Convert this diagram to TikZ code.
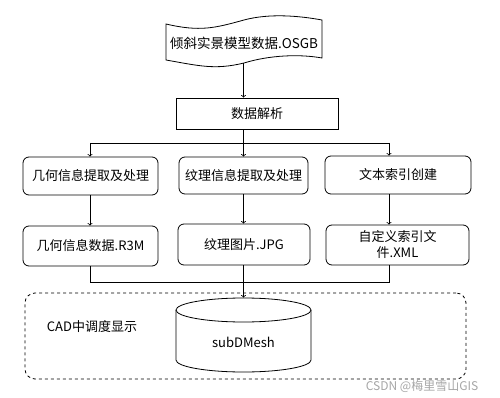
\documentclass[tikz,border=0pt]{standalone}
\usepackage{fontspec}
\setmainfont{Noto Sans CJK SC}

\tikzset{
  stage/.style={draw, rounded corners=6pt, align=center, inner sep=2pt},
  plainbox/.style={draw, align=center, inner sep=2pt},
}

\begin{document}
\begin{tikzpicture}[x=1pt, y=-1pt, >=to, font=\fontsize{13}{16}\selectfont, line width=0.8pt]

\useasboundingbox (0,0) rectangle (500,398);

% banner shaped source data
\draw (166,24) .. controls (200,32) and (215,28) .. (244,20)
      .. controls (270,13) and (300,16) .. (322,20)
      -- (322,58) .. controls (300,54) and (270,55) .. (244,63)
      .. controls (215,70) and (200,66) .. (166,60) -- cycle;
\node[font=\fontsize{13.5}{16}\selectfont] (doc) at (244,43) {倾斜实景模型数据.OSGB};
\coordinate (docBase) at (243.5,63);

\node[plainbox, minimum width=162pt, minimum height=31pt] (parse) at (257,113.5) {数据解析};

% first row: processing
\node[stage, minimum width=135pt, minimum height=38pt] (geo) at (90.5,176) {几何信息提取及处理};
\node[stage, minimum width=129pt, minimum height=37pt] (tex) at (243.5,175.5) {纹理信息提取及处理};
\node[stage, minimum width=146pt, minimum height=38pt] (idx) at (398,175) {文本索引创建};

% second row: results
\node[stage, minimum width=135pt, minimum height=40pt] (geoData) at (90.5,246) {几何信息数据.R3M};
\node[stage, minimum width=132pt, minimum height=41pt] (texImg) at (244,244.5) {纹理图片.JPG};
\node[stage, minimum width=143pt, minimum height=40pt] (idxFile) at (397.5,245) {自定义索引文\\件.XML};

% display in CAD
\node[draw, dashed, rounded corners=10pt, minimum width=441pt, minimum height=86pt] (cad) at (245.5,336) {};
\node (cadLabel) at (92,327) {CAD中调度显示};

% cylinder drawn by hand
\node[minimum width=135pt, minimum height=74pt, inner sep=0pt] (db) at (243.5,335) {};
\draw (176,310) -- (176,360) arc[start angle=180, end angle=360, x radius=67.5pt, y radius=12pt] -- (311,310);
\draw (243.5,310) ellipse[x radius=67.5pt, y radius=12pt];
\node (dbText) at (243.5,342) {subDMesh};

% bus lines
\coordinate (busL) at (90,143);
\coordinate (busM) at (243.5,143);
\coordinate (busR) at (389,143);
\coordinate (joinL) at (90,282);
\coordinate (joinR) at (389,282);

\draw[->] (docBase) -- (parse.north -| busM);
\draw (parse.south -| busM) -- (busM);
\draw (busL) -- (busR);
\draw[->] (busL) -- (geo.north -| busL);
\draw[->] (busM) -- (tex.north -| busM);
\draw[->] (busR) -- (idx.north -| busR);

\draw[->] (geo.south -| busL) -- (geoData.north -| busL);
\draw[->] (tex.south -| busM) -- (texImg.north -| busM);
\draw[->] (idx.south -| busR) -- (idxFile.north -| busR);

\draw (geoData.south -| busL) -- (joinL) -- (joinR) -- (idxFile.south -| busR);
\draw[->] (texImg.south -| busM) -- (db.north -| busM);

% watermark
\node[text=gray!70, font=\fontsize{12}{14}\selectfont] (mark) at (422,386) {CSDN @梅里雪山GIS};

\end{tikzpicture}
\end{document}
